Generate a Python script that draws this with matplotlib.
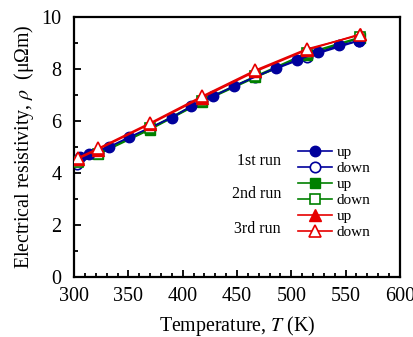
import matplotlib
matplotlib.use("Agg")
import matplotlib.pyplot as plt
from matplotlib.lines import Line2D
from matplotlib.ticker import MultipleLocator

plt.rcParams['font.family'] = ['Liberation Serif', 'DejaVu Serif']
plt.rcParams['mathtext.fontset'] = 'stix'

# Data
t1_up = [305, 314, 332, 351, 390, 408, 428, 447, 486, 505, 525, 544, 562]
r1_up = [4.62, 4.72, 5.00, 5.38, 6.13, 6.57, 6.95, 7.33, 8.04, 8.33, 8.63, 8.90, 9.08]
t1_dn = [562, 514, 467, 418, 370, 322, 303]
r1_dn = [9.08, 8.46, 7.70, 6.75, 5.70, 4.75, 4.36]
t2 = [304, 322, 370, 418, 467, 514, 563]
r2_up = [4.45, 4.71, 5.67, 6.73, 7.67, 8.55, 9.18]
r2_dn = [4.42, 4.74, 5.72, 6.78, 7.72, 8.60, 9.21]
t3 = [304, 322, 370, 418, 467, 514, 563]
r3_up = [4.55, 4.90, 5.88, 6.90, 7.90, 8.72, 9.33]
r3_dn = [4.59, 4.94, 5.92, 6.95, 7.95, 8.76, 9.30]

run_labels = ['1st run', '2nd run', '3rd run']
dir_labels = ['up', 'down']

blue = '#00009C'
green = '#008000'
red = '#E60000'

fig = plt.figure(figsize=(4.14, 3.37), dpi=100)
ax = fig.add_axes([0.179, 0.178, 0.787, 0.772])

ms = 7.5
lw = 1.2
ax.plot(t1_dn, r1_dn, '-o', color=blue, mfc='white', mec=blue, ms=ms, lw=lw, mew=1.2, zorder=2)
ax.plot(t2, r2_up, '-s', color=green, mfc=green, mec=green, ms=ms, lw=lw, zorder=3)
ax.plot(t2, r2_dn, '-s', color=green, mfc='white', mec=green, ms=ms, lw=lw, mew=1.2, zorder=3)
ax.plot(t1_up, r1_up, '-o', color=blue, mfc=blue, mec=blue, ms=ms, lw=lw, zorder=4)
ax.plot(t3, r3_up, '-^', color=red, mfc=red, mec=red, ms=ms+0.5, lw=lw, zorder=5)
ax.plot(t3, r3_dn, '-^', color=red, mfc='white', mec=red, ms=ms+0.5, lw=lw, mew=1.2, zorder=6)

ax.set_xlim(300, 600)
ax.set_ylim(0, 10)
ax.xaxis.set_major_locator(MultipleLocator(50))
ax.xaxis.set_minor_locator(MultipleLocator(10))
ax.yaxis.set_major_locator(MultipleLocator(2))
ax.yaxis.set_minor_locator(MultipleLocator(1))
ax.tick_params(which='both', direction='in', top=False, right=False, labelsize=14.5, width=1.3, colors='black')
ax.tick_params(which='major', length=5)
ax.tick_params(which='minor', length=3)
ax.tick_params(axis='x', pad=7)
ax.tick_params(axis='y', pad=9)
for s in ax.spines.values():
    s.set_linewidth(1.6)

ax.set_xlabel('Temperature, $T$ (K)', fontsize=14.3, labelpad=6)
ax.set_ylabel('Electrical resistivity, $\\rho$  (μΩm)', fontsize=14.3, labelpad=4)

handles = [
    Line2D([], [], color=blue, marker='o', mfc=blue, mec=blue, ms=ms, lw=lw),
    Line2D([], [], color=blue, marker='o', mfc='white', mec=blue, ms=ms, lw=lw, mew=1.2),
    Line2D([], [], color=green, marker='s', mfc=green, mec=green, ms=ms, lw=lw),
    Line2D([], [], color=green, marker='s', mfc='white', mec=green, ms=ms, lw=lw, mew=1.2),
    Line2D([], [], color=red, marker='^', mfc=red, mec=red, ms=ms + 0.5, lw=lw),
    Line2D([], [], color=red, marker='^', mfc='white', mec=red, ms=ms + 0.5, lw=lw, mew=1.2),
]
labels = dir_labels * 3
leg = ax.legend(handles, labels, frameon=False, fontsize=11, handlelength=2.2,
                handletextpad=0.3, labelspacing=0.15, borderpad=0,
                loc='upper left', bbox_to_anchor=(0.665, 0.535))

run_y = [0.445, 0.32, 0.183]
for lab, yy in zip(run_labels, run_y):
    ax.text(0.635, yy, lab, transform=ax.transAxes, fontsize=11.5, ha='right', va='center')

fig.savefig('out.png', dpi=100)
